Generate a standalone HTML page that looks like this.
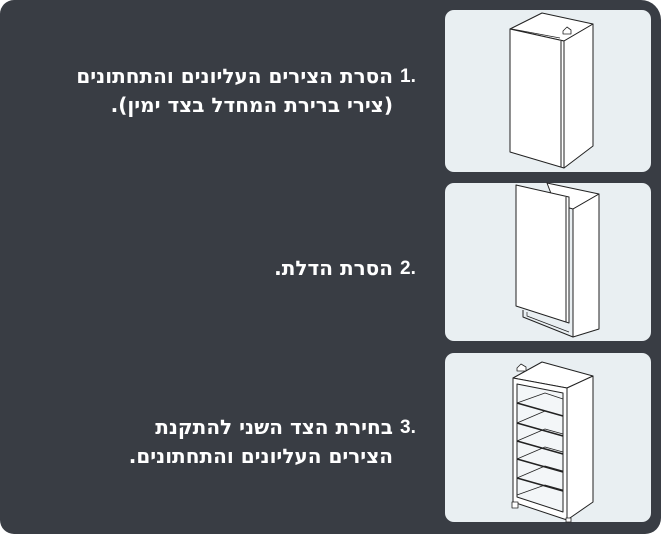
<!DOCTYPE html>
<html><head><meta charset="utf-8"><style>
body{margin:0;width:661px;height:534px;background:#fff;overflow:hidden}
.bg{position:absolute;left:0;top:0;width:661px;height:534px;background:#393d44;border-radius:14px 20px 16px 14px}
.p{position:absolute;left:445px;width:206px;background:#e9eff2;border-radius:9px}
.t{position:absolute;color:#fff;font:bold 20px "DejaVu Sans","Liberation Sans",sans-serif;direction:rtl;text-align:right;white-space:nowrap}
.n{position:absolute;color:#fff;font:bold 19px "Liberation Sans",sans-serif;white-space:nowrap}
svg{position:absolute;left:0;top:0}
</style></head><body>
<div class="bg"></div>
<div class="p" style="top:10px;height:162px"></div>
<div class="p" style="top:183px;height:158px"></div>
<div class="p" style="top:353px;height:169px"></div>

<div class="n" style="left:400px;top:66px">1.</div>
<div class="t" style="right:268px;top:64px">הסרת הצירים העליונים והתחתונים</div>
<div class="t" style="right:268px;top:93px">(צירי ברירת המחדל בצד ימין).</div>
<div class="n" style="left:400px;top:258px">2.</div>
<div class="t" style="right:268px;top:256px">הסרת הדלת.</div>
<div class="n" style="left:400px;top:417px">3.</div>
<div class="t" style="right:268px;top:415px">בחירת הצד השני להתקנת</div>
<div class="t" style="right:268px;top:444px">הצירים העליונים והתחתונים.</div>

<svg width="661" height="534" fill="#fff" stroke="#222" stroke-width="1" stroke-linejoin="round">
<polygon points="510,29 542,13 593,24 564,41"/>
<polygon points="564,41 593,24 593,146 564,168"/>
<polygon points="510,29 564,41 564,168 510,152"/>
<line x1="561" y1="41" x2="561" y2="167"/>
<line x1="512" y1="29" x2="560" y2="38" stroke-width="0.7"/>
<path d="M563,31 l4,-4 l4,3 l0,4 l-8,0 z" stroke-width="0.8"/>
<polygon points="547,183 599,194 573,209 555,204"/>
<polygon points="573,209 599,194 599,329 573,337"/>
<polyline points="523,310 523,317 573,337" fill="none"/>
<polyline points="527,312 527,316 569,332" fill="none" stroke-width="0.7"/>
<polygon points="516,185 569,197 569,323 516,306"/>
<line x1="566" y1="197" x2="566" y2="322"/>
<polygon points="513,378 542,362 593,376 567,388"/>
<polygon points="567,388 593,376 593,502 567,520"/>
<polygon points="513,378 567,388 567,520 513,502"/>
<polygon points="517,384 563,393 563,512 517,497" fill="#f3f6f8"/>
<g stroke-width="0.8" fill="none">
<polyline points="517,403 545,393 563,399"/>
<polyline points="517,423 545,411 563,416"/>
<polyline points="517,441 545,429 563,434"/>
<polyline points="517,459 545,447 563,452"/>
<polyline points="517,478 545,466 563,471"/>
<polyline points="517,495 545,485 563,490"/>
</g>
<g stroke-width="1.6">
<line x1="517" y1="403" x2="563" y2="416"/>
<line x1="517" y1="423" x2="563" y2="436"/>
<line x1="517" y1="441" x2="563" y2="454"/>
<line x1="517" y1="459" x2="563" y2="472"/>
<line x1="517" y1="478" x2="563" y2="491"/>
</g>
<path d="M517,368 l4,-4 l5,3 l0,4 l-9,0 z" stroke-width="0.8"/>
<rect x="512" y="502" width="6" height="6" stroke-width="0.8"/>
<rect x="566" y="518" width="5" height="4" stroke-width="0.8"/>
</svg>
</body></html>
